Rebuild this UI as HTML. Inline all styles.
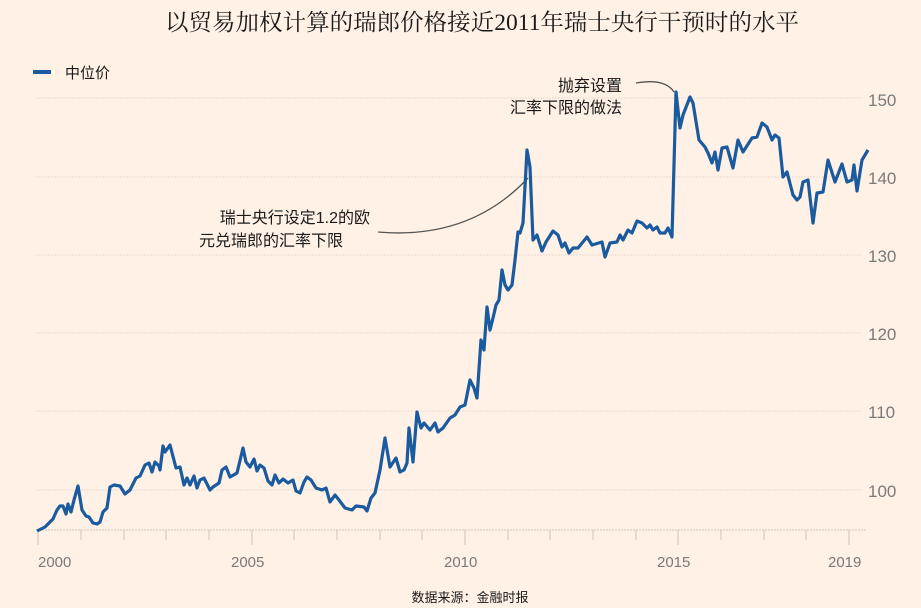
<!DOCTYPE html>
<html><head><meta charset="utf-8"><style>
body{margin:0;background:#fff1e5;}
svg{display:block;font-family:"Liberation Sans","Noto Sans CJK SC",sans-serif;}
</style></head><body>
<svg width="921" height="608" viewBox="0 0 921 608">
<rect width="921" height="608" fill="#fff1e5"/>
<text x="482" y="30" text-anchor="middle" font-size="23" fill="#1a1a1a" font-family="Liberation Serif,Noto Serif CJK SC,serif" textLength="634" lengthAdjust="spacingAndGlyphs">以贸易加权计算的瑞郎价格接近2011年瑞士央行干预时的水平</text>
<line x1="33" y1="72" x2="51" y2="72" stroke="#1a5a9e" stroke-width="4"/>
<text x="65" y="78" font-size="15" fill="#1a1a1a">中位价</text>
<g stroke="#e8dcd2" stroke-width="1" stroke-dasharray="2,1">
<line x1="36" y1="98" x2="862" y2="98"/><line x1="36" y1="177" x2="862" y2="177"/>
<line x1="36" y1="255" x2="862" y2="255"/><line x1="36" y1="333" x2="862" y2="333"/>
<line x1="36" y1="411" x2="862" y2="411"/><line x1="36" y1="490" x2="862" y2="490"/>
<line x1="36" y1="530" x2="866" y2="530" stroke="#cfc4ba"/>
</g>
<g fill="#7a7a7a" font-size="17">
<text x="868" y="106">150</text><text x="868" y="184">140</text><text x="868" y="262">130</text>
<text x="868" y="340">120</text><text x="868" y="418">110</text><text x="868" y="497">100</text>
</g>
<g stroke="#cfc4ba" stroke-width="1">
<line x1="38" y1="530" x2="38" y2="545"/><line x1="81" y1="530" x2="81" y2="540"/><line x1="124" y1="530" x2="124" y2="540"/><line x1="166" y1="530" x2="166" y2="540"/><line x1="209" y1="530" x2="209" y2="540"/><line x1="252" y1="530" x2="252" y2="545"/><line x1="294" y1="530" x2="294" y2="540"/><line x1="337" y1="530" x2="337" y2="540"/><line x1="380" y1="530" x2="380" y2="540"/><line x1="422" y1="530" x2="422" y2="540"/><line x1="465" y1="530" x2="465" y2="545"/><line x1="508" y1="530" x2="508" y2="540"/><line x1="550" y1="530" x2="550" y2="540"/><line x1="593" y1="530" x2="593" y2="540"/><line x1="636" y1="530" x2="636" y2="540"/><line x1="678" y1="530" x2="678" y2="545"/><line x1="721" y1="530" x2="721" y2="540"/><line x1="764" y1="530" x2="764" y2="540"/><line x1="806" y1="530" x2="806" y2="540"/><line x1="849" y1="530" x2="849" y2="545"/>
</g>
<g fill="#7a7a7a" font-size="15">
<text x="38" y="567">2000</text><text x="231" y="567">2005</text><text x="444" y="567">2010</text><text x="657" y="567">2015</text><text x="828" y="567">2019</text>
</g>
<path d="M378,232 Q470,240 528,178" fill="none" stroke="#555" stroke-width="1.3"/>
<path d="M636,83 Q665,78 674,92" fill="none" stroke="#555" stroke-width="1.3"/>
<g font-size="16" fill="#1a1a1a" text-anchor="end">
<text x="370" y="223">瑞士央行设定1.2的欧</text><text x="343" y="246">元兑瑞郎的汇率下限</text>
<text x="622" y="91">抛弃设置</text><text x="622" y="113">汇率下限的做法</text>
</g>
<polyline fill="none" stroke="#1a5a9e" stroke-width="3.2" stroke-linejoin="round" points="37,531 45,527 50,522 53,519 57,510 60,506 63,506 66,514 68,504 71,512 74,500 78,486 82,510 86,516 89,517 93,523 97,524 100,522 103,512 107,508 110,487 114,485 120,486 125,494 130,490 136,478 140,476 145,465 149,463 152,472 155,462 159,466 160,470 163,446 165,452 170,445 176,468 180,467 184,485 187,478 190,485 194,476 197,488 200,480 204,478 210,490 213,487 219,483 222,470 226,467 230,477 237,473 243,448 246,462 250,467 254,459 257,471 260,465 264,468 268,481 272,485 275,475 279,483 283,479 288,483 293,480 296,491 300,493 304,482 307,477 311,480 316,488 322,490 326,488 330,502 335,495 339,500 345,508 352,510 356,506 364,507 367,511 371,498 375,493 380,470 385,438 390,467 396,458 400,472 404,470 407,463 409,428 413,462 417,412 421,428 424,423 430,430 435,423 438,432 443,428 450,418 455,415 460,407 465,405 470,380 474,388 477,398 481,340 484,350 487,307 490,330 493,318 496,305 499,300 502,270 505,285 508,290 512,285 515,260 518,232 520,233 523,223 527,150 530,167 533,240 537,235 542,251 546,242 553,231 558,235 562,247 565,243 569,253 573,248 578,248 587,237 592,245 602,242 605,257 610,243 617,242 620,235 623,240 628,230 632,233 637,221 642,223 647,228 650,225 653,230 657,227 660,233 665,233 668,228 672,237 676,92 680,128 683,115 690,97 693,103 699,140 705,147 708,153 712,163 715,152 718,170 722,148 727,147 733,168 738,140 743,152 752,138 757,137 762,123 767,127 772,140 775,135 779,138 783,177 787,172 793,195 797,200 800,197 803,182 808,180 813,223 817,193 823,192 828,160 835,182 842,164 847,182 852,180 854,165 857,191 862,160 868,150"/>
<text x="470" y="602" text-anchor="middle" font-size="13" fill="#1a1a1a">数据来源：金融时报</text>
</svg>
</body></html>
